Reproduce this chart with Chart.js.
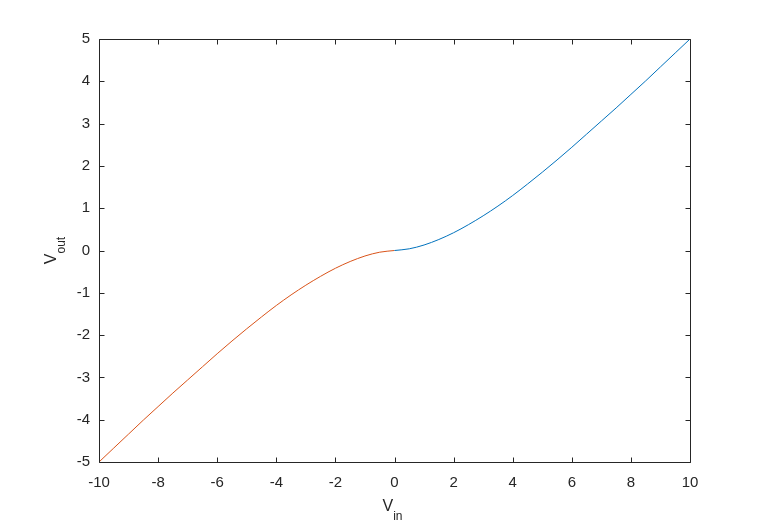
<!DOCTYPE html>
<html>
<head>
<meta charset="utf-8">
<script src="https://cdn.jsdelivr.net/npm/chart.js@4.4.1/dist/chart.umd.min.js"></script>
<style>
  html, body { margin: 0; padding: 0; background: #ffffff; }
  #wrap { width: 764px; height: 525px; position: relative; }
</style>
</head>
<body>
<div id="wrap"><canvas id="c" width="764" height="525"></canvas></div>
<script>
// ---- data ----
const vinPos  = [0, 0.5, 1, 1.5, 2, 2.5, 3, 3.5, 4, 4.5, 5, 5.5, 6, 6.5, 7, 7.5, 8, 8.5, 9, 9.5, 10];
const voutPos = [0, 0.04, 0.13, 0.26, 0.42, 0.61, 0.82, 1.05, 1.30, 1.57, 1.85, 2.14, 2.44, 2.75, 3.06, 3.37, 3.69, 4.01, 4.34, 4.67, 5];
const vinNeg  = [-10, -9.5, -9, -8.5, -8, -7.5, -7, -6.5, -6, -5.5, -5, -4.5, -4, -3.5, -3, -2.5, -2, -1.5, -1, -0.5, 0];
const voutNeg = [-5, -4.67, -4.34, -4.01, -3.69, -3.37, -3.06, -2.75, -2.44, -2.14, -1.85, -1.57, -1.30, -1.05, -0.82, -0.61, -0.42, -0.26, -0.13, -0.04, 0];
const xTicks = [-10, -8, -6, -4, -2, 0, 2, 4, 6, 8, 10];
const yTicks = [-5, -4, -3, -2, -1, 0, 1, 2, 3, 4, 5];
const xLabel = { main: 'V', sub: 'in' };
const yLabel = { main: 'V', sub: 'out' };

const axisColor = '#262626';
const fontFamily = "'Liberation Sans', Arial, Helvetica, sans-serif";

const toPts = (xs, ys) => xs.map((x, i) => ({ x: x, y: ys[i] }));

const boxPlugin = {
  id: 'matlabBox',
  afterDraw(chart) {
    const { ctx, chartArea: a, scales } = chart;
    const L = Math.round(a.left) + 0.5, R = Math.round(a.right) + 0.5;
    const T = Math.round(a.top) + 0.5, B = Math.round(a.bottom) + 0.5;
    const tl = 5;
    ctx.save();
    ctx.strokeStyle = axisColor;
    ctx.lineWidth = 1;
    ctx.beginPath();
    ctx.rect(L, T, R - L, B - T);
    scales.x.ticks.forEach(t => {
      const px = Math.round(scales.x.getPixelForValue(t.value)) + 0.5;
      ctx.moveTo(px, B); ctx.lineTo(px, B - tl);
      ctx.moveTo(px, T); ctx.lineTo(px, T + tl);
    });
    scales.y.ticks.forEach(t => {
      const py = Math.round(scales.y.getPixelForValue(t.value)) + 0.5;
      ctx.moveTo(L, py); ctx.lineTo(L + tl, py);
      ctx.moveTo(R, py); ctx.lineTo(R - tl, py);
    });
    ctx.stroke();

    const drawSub = (lab, cx, base) => {
      ctx.font = '16px ' + fontFamily;
      const wm = ctx.measureText(lab.main).width;
      ctx.font = '12px ' + fontFamily;
      const ws = ctx.measureText(lab.sub).width;
      const start = cx - (wm + ws) / 2;
      ctx.textAlign = 'left';
      ctx.textBaseline = 'alphabetic';
      ctx.font = '16px ' + fontFamily;
      ctx.fillText(lab.main, start, base);
      ctx.font = '12px ' + fontFamily;
      ctx.fillText(lab.sub, start + wm, base + 9);
    };
    ctx.fillStyle = axisColor;
    drawSub(xLabel, (a.left + a.right) / 2 - 2, a.bottom + 48.5);
    ctx.save();
    ctx.translate(a.left - 43, (a.top + a.bottom) / 2);
    ctx.rotate(-Math.PI / 2);
    drawSub(yLabel, 0, 0);
    ctx.restore();
    ctx.restore();
  }
};

new Chart(document.getElementById('c'), {
  type: 'line',
  data: {
    datasets: [
      {
        data: toPts(vinPos, voutPos),
        borderColor: '#0072BD',
        borderWidth: 1,
        pointRadius: 0,
        cubicInterpolationMode: 'monotone',
        fill: false
      },
      {
        data: toPts(vinNeg, voutNeg),
        borderColor: '#D95319',
        borderWidth: 1,
        pointRadius: 0,
        cubicInterpolationMode: 'monotone',
        fill: false
      }
    ]
  },
  options: {
    responsive: false,
    animation: false,
    devicePixelRatio: 1,
    layout: { padding: { left: 0, top: 39, right: 74, bottom: 0 } },
    plugins: { legend: { display: false }, tooltip: { enabled: false } },
    scales: {
      x: {
        type: 'linear',
        min: -10, max: 10,
        grid: { display: false, drawTicks: false },
        border: { display: false },
        afterBuildTicks: s => { s.ticks = xTicks.map(v => ({ value: v })); },
        afterFit: s => { s.height = 63; },
        ticks: {
          autoSkip: false, maxRotation: 0, padding: 12,
          color: axisColor,
          font: { family: fontFamily, size: 15 },
          callback: v => String(v)
        }
      },
      y: {
        type: 'linear',
        min: -5, max: 5,
        grid: { display: false, drawTicks: false },
        border: { display: false },
        afterBuildTicks: s => { s.ticks = yTicks.map(v => ({ value: v })); },
        afterFit: s => { s.width = 99; },
        ticks: {
          autoSkip: false, padding: 9,
          color: axisColor,
          font: { family: fontFamily, size: 15 },
          callback: v => String(v)
        }
      }
    }
  },
  plugins: [boxPlugin]
});
</script>
</body>
</html>
